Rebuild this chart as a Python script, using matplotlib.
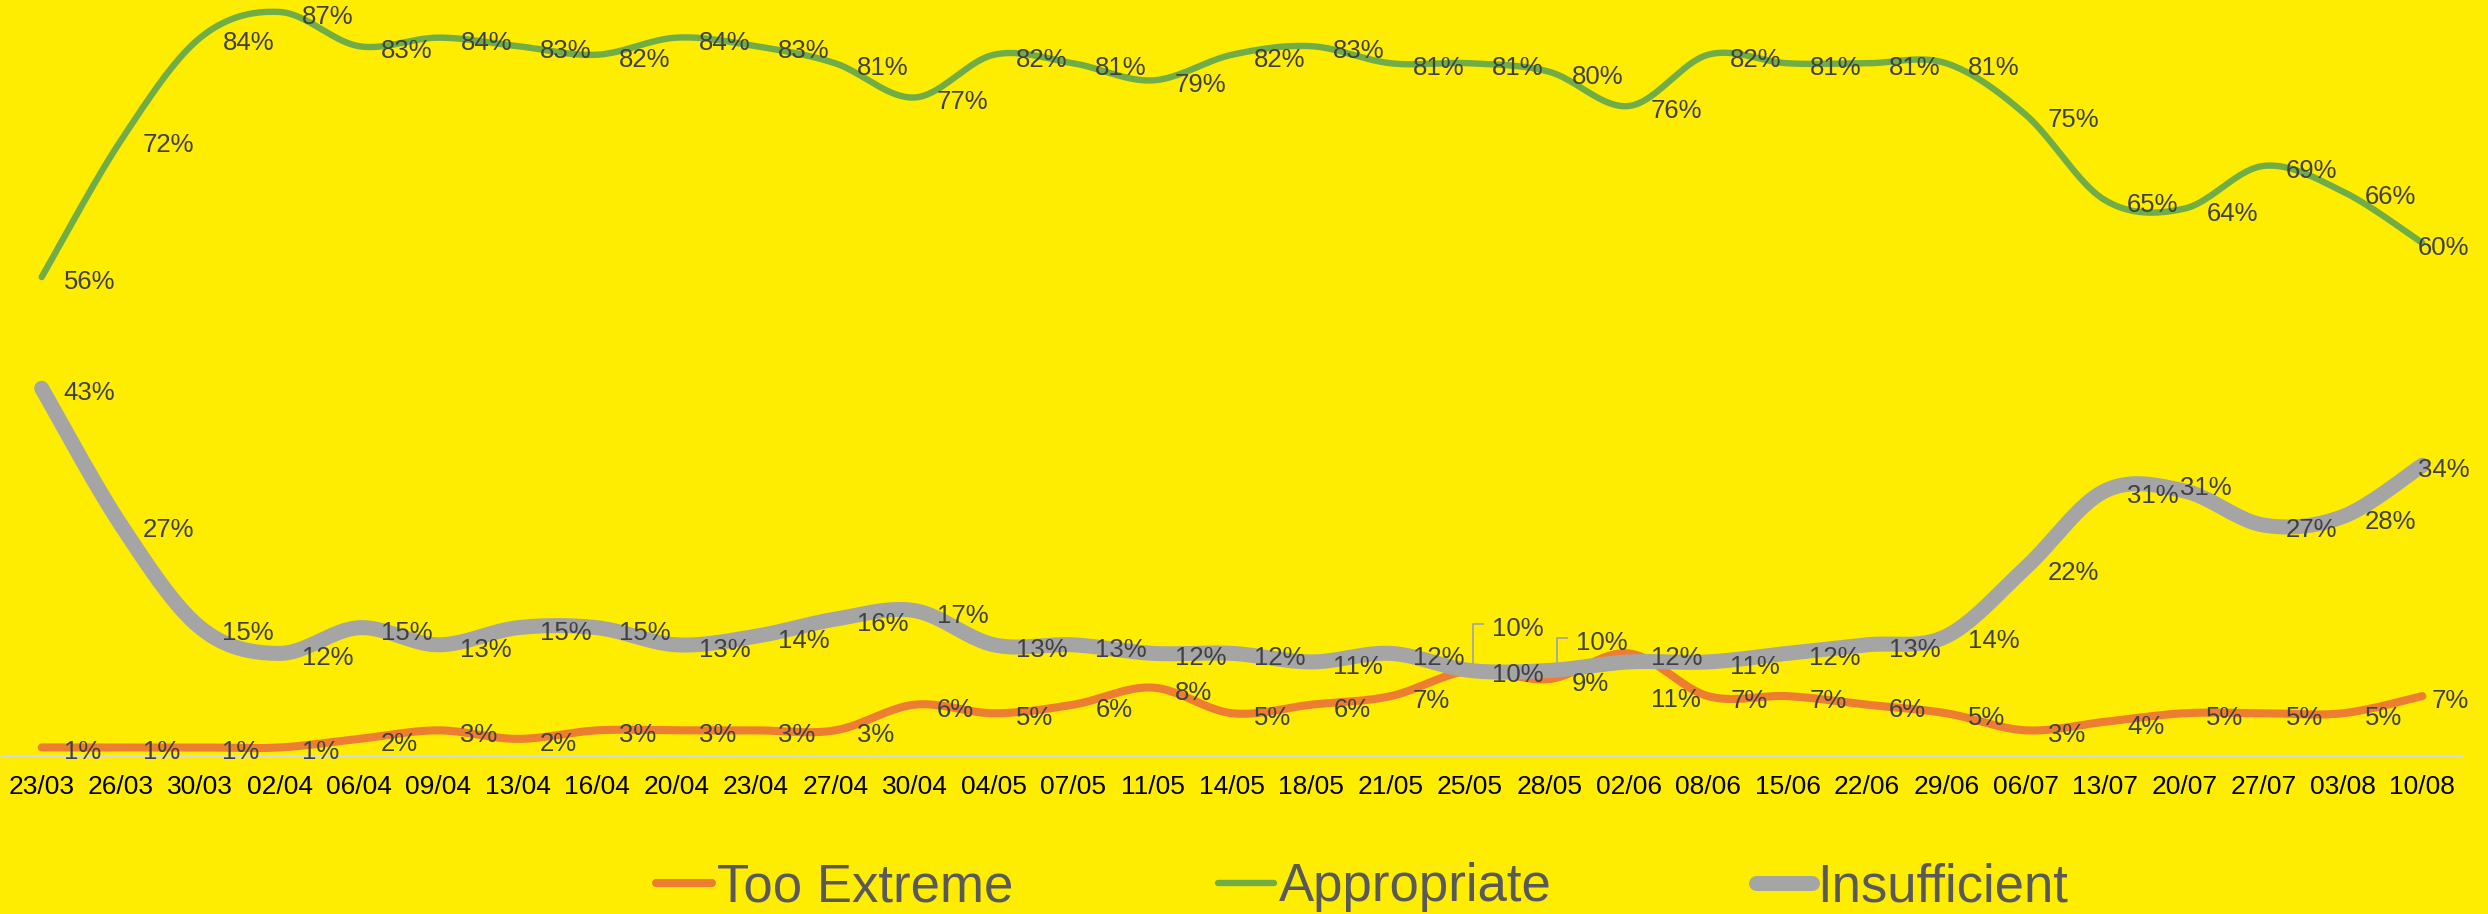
import numpy as np
import matplotlib
matplotlib.use('Agg')
import matplotlib.pyplot as plt

plt.rcParams['font.family'] = ['Liberation Sans', 'DejaVu Sans']

dates = ['23/03', '26/03', '30/03', '02/04', '06/04', '09/04', '13/04', '16/04',
         '20/04', '23/04', '27/04', '30/04', '04/05', '07/05', '11/05', '14/05',
         '18/05', '21/05', '25/05', '28/05', '02/06', '08/06', '15/06', '22/06',
         '29/06', '06/07', '13/07', '20/07', '27/07', '03/08', '10/08']
too_extreme = [1, 1, 1, 1, 2, 3, 2, 3, 3, 3, 3, 6, 5, 6, 8, 5,
               6, 7, 10, 9, 12, 7, 7, 6, 5, 3, 4, 5, 5, 5, 7]
appropriate = [56, 72, 84, 87, 83, 84, 83, 82, 84, 83, 81, 77, 82, 81, 79, 82,
               83, 81, 81, 80, 76, 82, 81, 81, 81, 75, 65, 64, 69, 66, 60]
insufficient = [43, 27, 15, 12, 15, 13, 15, 15, 13, 14, 16, 17, 13, 13, 12, 12,
                11, 12, 10, 10, 11, 11, 12, 13, 14, 22, 31, 31, 27, 28, 34]

BG = '#FFED00'
LABEL_COL = '#404040'

series = [
    ('Too Extreme', too_extreme, '#ED7D31', 5.8),
    ('Appropriate', appropriate, '#70AD47', 4.6),
    ('Insufficient', insufficient, '#A5A5A5', 10.8),
]

# manually moved labels (pixel offsets from the default spot), as in the original
moved = {
    ('Insufficient', 18): (0, -46, True),
    ('Insufficient', 19): (5, -32, True),
    ('Insufficient', 20): (0, 33, False),
    ('Insufficient', 27): (-26, -8, False),
}


def smooth(y, n=24):
    # Excel-like smoothed line: bezier segments with neighbour based control points
    x = np.arange(len(y), dtype=float)
    pts = np.column_stack([x, np.asarray(y, dtype=float)])
    t = np.linspace(0, 1, n)[:, None]
    out = []
    for i in range(len(pts) - 1):
        p0 = pts[i - 1] if i > 0 else pts[i]
        p1, p2 = pts[i], pts[i + 1]
        p3 = pts[i + 2] if i + 2 < len(pts) else pts[i + 1]
        c1 = p1 + (p2 - p0) / 6
        c2 = p2 - (p3 - p1) / 6
        seg = (1 - t)**3 * p1 + 3 * (1 - t)**2 * t * c1 + 3 * (1 - t) * t**2 * c2 + t**3 * p2
        out.append(seg if i == 0 else seg[1:])
    seg = np.vstack(out)
    return seg[:, 0], seg[:, 1]


W, H = 2488, 914
fig = plt.figure(figsize=(W / 100, H / 100), dpi=100, facecolor=BG)
ax = fig.add_axes([2 / W, 1 - 756 / H, 2460 / W, 756 / H])
ax.set_facecolor(BG)
ax.set_xlim(-0.5, len(dates) - 0.5)
ax.set_ylim(0, 88.4)

# pixel -> data scale factors
px_x = (len(dates)) / 2460
px_y = 88.4 / 756

for name, vals, col, lw in series:
    xs, ys = smooth(vals)
    ax.plot(xs, ys, color=col, lw=lw, solid_capstyle='round', label=name, clip_on=False)

for name, vals, col, lw in series:
    n = len(vals)
    for i, v in enumerate(vals):
        dx, dy, leader = moved.get((name, i), (0, 0, False))
        if i == n - 1:
            tx = i + 47 * px_x
            ha = 'right'
        else:
            tx = i + (22 + dx) * px_x
            ha = 'left'
        ty = v - (dy + 5) * px_y
        ax.text(tx, ty, f'{v}%', fontsize=18.5, color=LABEL_COL, ha=ha, va='center')
        if leader:
            lx = i + (3 + dx) * px_x
            ax.plot([lx, lx, tx - 9 * px_x], [v + 6 * px_y, ty + 5 * px_y, ty + 5 * px_y],
                    color='#A5A5A5', lw=1.3)

ax.set_xticks(range(len(dates)))
ax.set_xticklabels(dates, fontsize=19, color='black')
ax.tick_params(axis='x', length=0, pad=14)
ax.set_yticks([])
for s in ['top', 'left', 'right']:
    ax.spines[s].set_visible(False)
ax.spines['bottom'].set_color('#D9D9D9')
ax.spines['bottom'].set_linewidth(1.6)
ax.spines['bottom'].set_zorder(0.5)

leg = fig.legend(loc='center', bbox_to_anchor=(1362 / W, 1 - 887 / H), ncol=3,
                 frameon=False, fontsize=38, handlelength=1.06, handletextpad=0.1,
                 columnspacing=3.87, labelcolor='#595959')

fig.savefig('out.png', dpi=100, facecolor=BG)
